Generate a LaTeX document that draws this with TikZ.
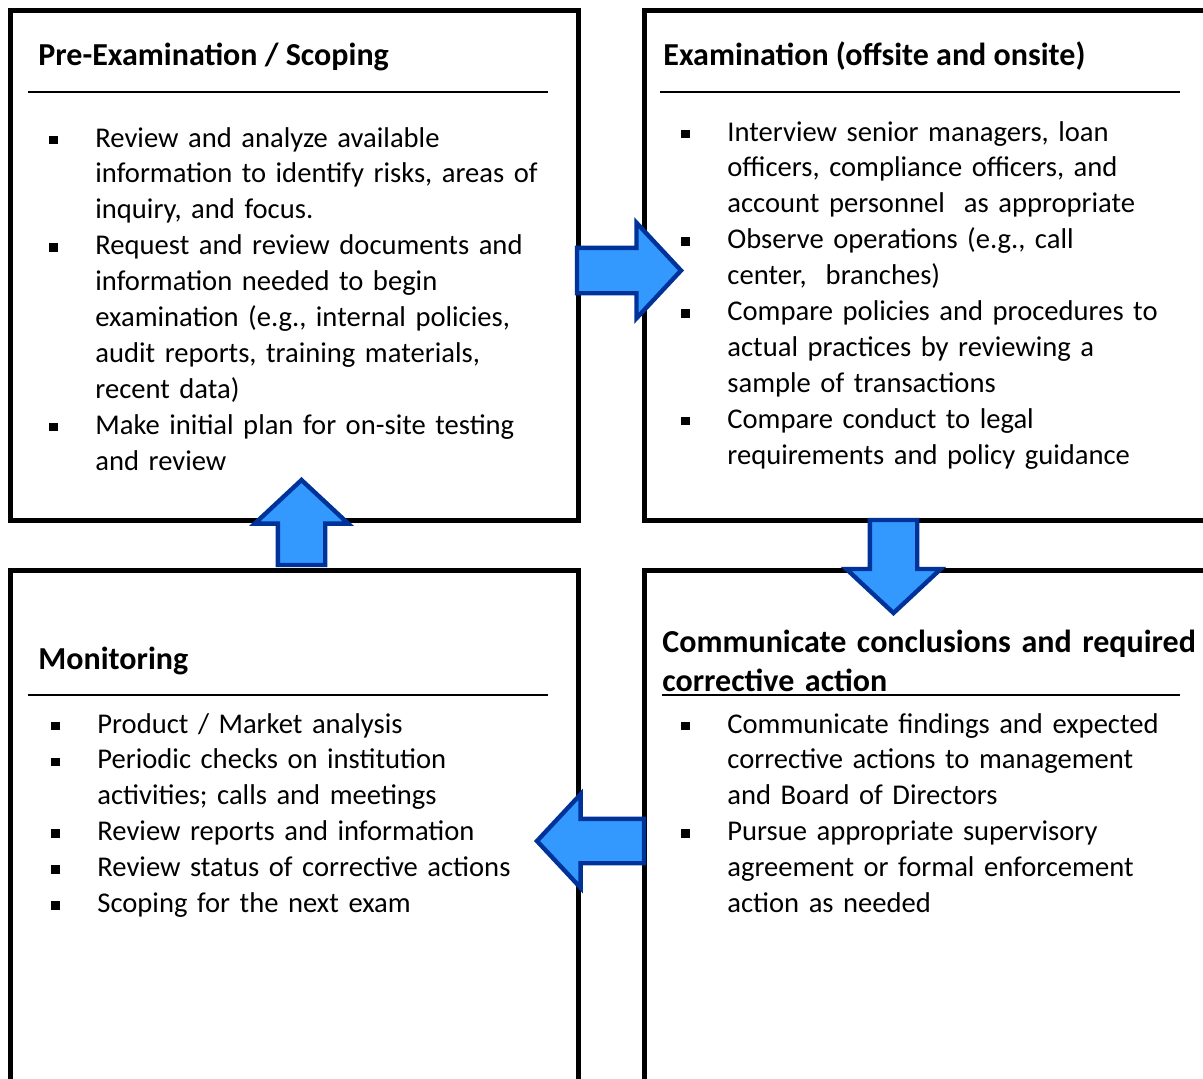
\documentclass[tikz,border=0pt]{standalone}
\usepackage{fontspec}
\setmainfont{Carlito}
\usetikzlibrary{positioning,shapes.arrows}

\definecolor{arrowfill}{RGB}{51,153,255}
\definecolor{arrowline}{RGB}{0,51,153}

\newlength{\bulletgap}
\setlength{\bulletgap}{23.1pt}
\newcommand{\sqitem}[1]{\noindent\hangindent=\bulletgap\hangafter=1%
  \makebox[\bulletgap][l]{\rule[1.5pt]{4.2pt}{4.2pt}}#1\par}

\begin{document}
\begin{tikzpicture}
    [x=0.5pt,y=-0.5pt,
     phase/.style={draw,line width=2.5pt,rectangle,inner sep=0pt,outer sep=0pt,anchor=north west},
     head/.style={anchor=base west,inner sep=0pt,font=\fontsize{16}{19.5}\selectfont\bfseries},
     items/.style={anchor=base west,inner sep=0pt,text width=300pt,align=left,
                   font=\fontsize{14.3}{17.95}\selectfont},
     rule/.style={line width=1pt},
     flow/.style={single arrow,draw=arrowline,fill=arrowfill,line width=2.2pt,outer sep=0pt,
                  single arrow tip angle=94,anchor=tail}]
    \useasboundingbox (0,0) rectangle (1203,1078);
    \clip (0,0) rectangle (1203,1078);

    % the four phases
    \node[phase,minimum width=283.75pt,minimum height=255pt] (scoping) at (10.5,10.5) {};
    \node[phase,minimum width=300pt,minimum height=255pt] (exam) at (644,10.5) {};
    \node[phase,minimum width=283.75pt,minimum height=300pt] (monitor) at (10.5,570.5) {};
    \node[phase,minimum width=300pt,minimum height=300pt] (report) at (644,570.5) {};

    % headings
    \node[head] (scoping head) at (38,65) {Pre-Examination / Scoping};
    \node[head] (exam head) at (663,65) {Examination (offsite and onsite)};
    \node[head] (monitor head) at (38,669) {Monitoring};
    \node[head,text width=290pt,align=left] (report head) at (662,652)
      {Communicate conclusions and required\\corrective action};

    \draw[rule] (28,92) -- (548,92);
    \draw[rule] (660,92) -- (1180,92);
    \draw[rule] (28,695) -- (548,695);
    \draw[rule] (662,695) -- (1180,695);

    % bullet lists
    \node[items] (scoping list) at (48.8,147)
      {\sqitem{Review and analyze available\newline information to identify risks, areas of\newline inquiry, and focus.}%
       \sqitem{Request and review documents and\newline information needed to begin\newline examination (e.g., internal policies,\newline audit reports, training materials,\newline recent data)}%
       \sqitem{Make initial plan for on-site testing\newline and review}};
    \node[items] (exam list) at (680.8,141)
      {\sqitem{Interview senior managers, loan\newline officers, compliance officers, and\newline account personnel\ \ as appropriate}%
       \sqitem{Observe operations (e.g., call\newline center,\ \ branches)}%
       \sqitem{Compare policies and procedures to\newline actual practices by reviewing a\newline sample of transactions}%
       \sqitem{Compare conduct to legal\newline requirements and policy guidance}};
    \node[items] (monitor list) at (50.8,733)
      {\sqitem{Product / Market analysis}%
       \sqitem{Periodic checks on institution\newline activities; calls and meetings}%
       \sqitem{Review reports and information}%
       \sqitem{Review status of corrective actions}%
       \sqitem{Scoping for the next exam}};
    \node[items] (report list) at (680.8,733)
      {\sqitem{Communicate findings and expected\newline corrective actions to management\newline and Board of Directors}%
       \sqitem{Pursue appropriate supervisory\newline agreement or formal enforcement\newline action as needed}};

    % block arrows between phases
    \node[flow,inner sep=10.25pt,single arrow head extend=12.5pt,
          minimum width=45.5pt,minimum height=52pt,shape border rotate=0]
          (to exam) at (577,270.5) {};
    \node[flow,inner sep=10.75pt,single arrow head extend=11.75pt,
          minimum width=45pt,minimum height=46.5pt,shape border rotate=270]
          (to report) at (893.5,520) {};
    \node[flow,inner sep=10pt,single arrow head extend=12.25pt,
          minimum width=44.5pt,minimum height=53.5pt,shape border rotate=180]
          (to monitor) at (644,841) {};
    \node[flow,inner sep=10.75pt,single arrow head extend=11.5pt,
          minimum width=44.5pt,minimum height=42.5pt,shape border rotate=90]
          (to scoping) at (301.5,565) {};
\end{tikzpicture}
\end{document}
